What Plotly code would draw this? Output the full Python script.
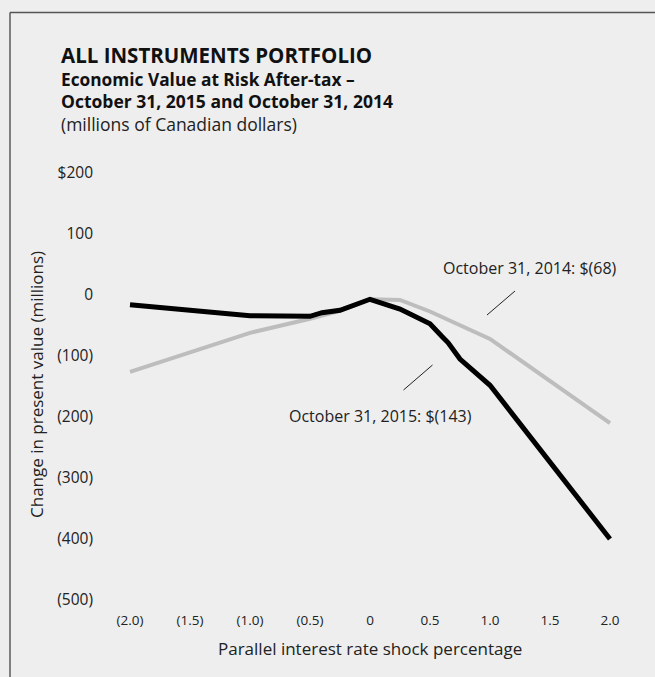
import plotly.graph_objects as go

# ---- data ----
shock_2015 = [-2.0, -1.0, -0.5, -0.4, -0.25, 0.0, 0.25, 0.5, 0.6, 0.65, 0.75, 1.0, 2.0]
value_2015 = [-16, -34, -35, -29, -25, -7, -23, -47, -68, -78, -105, -148, -400]
shock_2014 = [-2.0, -1.0, -0.5, -0.25, 0.0, 0.25, 0.5, 1.0, 2.0]
value_2014 = [-126, -62, -39, -26, -7, -8, -27, -72, -210]

x_tickvals = [-2.0, -1.5, -1.0, -0.5, 0, 0.5, 1.0, 1.5, 2.0]
x_ticktext = ["(2.0)", "(1.5)", "(1.0)", "(0.5)", "0", "0.5", "1.0", "1.5", "2.0"]
y_tickvals = [200, 100, 0, -100, -200, -300, -400, -500]
y_ticktext = ["$200", "100", "0", "(100)", "(200)", "(300)", "(400)", "(500)"]

W, H = 655, 677
L, R, T, B = 100, 21, 160, 67
PW, PH = W - L - R, H - T - B

def xp(px):
    return (px - L) / PW

def yp(py):
    return (H - B - py) / PH

FONT = "Open Sans"
TXT = "#222222"
BG = "#eeeeee"

fig = go.Figure()
fig.add_trace(go.Scatter(x=shock_2014, y=value_2014, mode="lines",
                         line=dict(color="#bdbdbd", width=4), name="October 31, 2014",
                         hoverinfo="x+y"))
fig.add_trace(go.Scatter(x=shock_2015, y=value_2015, mode="lines",
                         line=dict(color="#000000", width=5), name="October 31, 2015",
                         hoverinfo="x+y"))

ann = []
def txt(px, py, text, size, bold=False, xanchor="left", color=TXT):
    ann.append(dict(xref="paper", yref="paper", x=xp(px), y=yp(py), text=("<b>%s</b>" % text) if bold else text,
                    showarrow=False, xanchor=xanchor, yanchor="middle",
                    font=dict(family=FONT, size=size, color=color)))

txt(59, 55, "ALL INSTRUMENTS PORTFOLIO", 20.5, bold=True, color="#111111")
txt(59, 79, "Economic Value at Risk After-tax –", 17.3, bold=True, color="#111111")
txt(59, 101, "October 31, 2015 and October 31, 2014", 17.5, bold=True, color="#111111")
txt(59, 124, "(millions of Canadian dollars)", 17.5)

# axis titles
txt(370, 648, "Parallel interest rate shock percentage", 17, xanchor="center")
ann.append(dict(xref="paper", yref="paper", x=xp(36), y=yp(385), text="Change in present value (millions)",
                showarrow=False, textangle=-90, xanchor="center", yanchor="middle",
                font=dict(family=FONT, size=17, color=TXT)))

# series labels
txt(530, 268, "October 31, 2014: $(68)", 16, xanchor="center")
txt(380, 416, "October 31, 2015: $(143)", 16, xanchor="center")

shapes = [
    # leader lines
    dict(type="line", xref="paper", yref="paper", x0=xp(515), y0=yp(291), x1=xp(487), y1=yp(315),
         line=dict(color="#222222", width=1)),
    dict(type="line", xref="paper", yref="paper", x0=xp(432.5), y0=yp(365), x1=xp(403.5), y1=yp(390),
         line=dict(color="#222222", width=1)),
    # frame
    dict(type="line", xref="paper", yref="paper", x0=xp(10), y0=yp(12.5), x1=xp(W + 5), y1=yp(12.5),
         line=dict(color="#555555", width=1.6)),
    dict(type="line", xref="paper", yref="paper", x0=xp(10), y0=yp(12.5), x1=xp(10), y1=yp(H + 5),
         line=dict(color="#444444", width=1.3)),
]

fig.update_layout(
    width=W, height=H,
    margin=dict(l=L, r=R, t=T, b=B, pad=0),
    paper_bgcolor=BG, plot_bgcolor=BG,
    showlegend=False,
    annotations=ann, shapes=shapes,
    xaxis=dict(range=[-2.25, 2.2], tickvals=x_tickvals, ticktext=x_ticktext,
               showgrid=False, zeroline=False, showline=False, ticks="",
               tickfont=dict(family=FONT, size=13.5, color=TXT), fixedrange=True),
    yaxis=dict(range=[(295 - 610) / 0.61, (295 - 160) / 0.61], tickvals=y_tickvals, ticktext=y_ticktext,
               showgrid=False, zeroline=False, showline=False, ticks="",
               ticklabelstandoff=6,
               tickfont=dict(family=FONT, size=15.5, color=TXT), fixedrange=True),
)

fig.write_html("out.html")
